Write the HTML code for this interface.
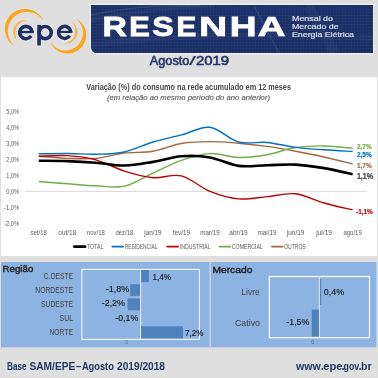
<!DOCTYPE html>
<html><head><meta charset="utf-8">
<style>
html,body{margin:0;padding:0;width:378px;height:378px;overflow:hidden;background:#dfdfdf;}
svg{display:block;will-change:transform;}
text{font-family:"Liberation Sans",sans-serif;}
</style></head><body>
<svg width="378" height="378" viewBox="0 0 378 378">
<defs>
<pattern id="grid" width="3" height="3" patternUnits="userSpaceOnUse">
<rect width="3" height="0.6" fill="#ffffff" opacity="0.05"/>
<rect width="0.6" height="3" fill="#ffffff" opacity="0.04"/>
</pattern>
<linearGradient id="bang" x1="0" y1="0" x2="1" y2="1">
<stop offset="0" stop-color="#1c3069"/><stop offset="0.5" stop-color="#1a2e67"/><stop offset="1" stop-color="#192c64"/>
</linearGradient>
</defs>
<rect width="378" height="378" fill="#dfdfdf"/>

<!-- logo -->
<g>
<path d="M15.15,46.33 L13.58,45.38 L12.09,44.28 L10.70,43.04 L9.42,41.66 L8.27,40.15 L7.27,38.52 L6.43,36.79 L5.75,34.98 L5.25,33.10 L4.94,31.17 L4.82,29.21 L4.89,27.23 L5.16,25.27 L5.63,23.34 L6.29,21.45 L7.13,19.65 L8.16,17.93 L9.35,16.32 L10.69,14.84 L12.18,13.49 L13.78,12.30 L15.49,11.28 L17.29,10.42 L19.16,9.75 L21.08,9.26 L23.04,8.97 L25.01,8.86 L26.97,8.95 L28.90,9.22 L30.79,9.68 L32.62,10.32 L34.37,11.12 L36.03,12.08 L37.58,13.19 L39.01,14.44 L40.30,15.80 L41.45,17.28 L42.45,18.84 L43.29,20.48 L43.97,22.18 L43.97,22.18 L43.05,20.62 L41.99,19.15 L40.81,17.80 L39.52,16.58 L38.13,15.48 L36.66,14.53 L35.12,13.71 L33.52,13.05 L31.88,12.53 L30.21,12.17 L28.52,11.95 L26.83,11.89 L25.15,11.98 L23.50,12.22 L21.87,12.59 L20.30,13.11 L18.78,13.76 L17.32,14.54 L15.95,15.44 L14.65,16.45 L13.46,17.58 L12.36,18.80 L11.38,20.11 L10.50,21.49 L9.75,22.95 L9.11,24.48 L8.61,26.05 L8.24,27.67 L8.01,29.33 L7.92,31.00 L7.98,32.69 L8.18,34.38 L8.54,36.06 L9.05,37.71 L9.70,39.33 L10.51,40.89 L11.47,42.38 L12.56,43.80 L13.79,45.12 L15.15,46.33 Z" fill="#fba521" stroke="#e8ecf3" stroke-width="0.9" paint-order="stroke"/>
<path d="M18.27,41.64 L17.63,41.17 L17.01,40.65 L16.43,40.09 L15.88,39.49 L15.37,38.84 L14.91,38.16 L14.49,37.44 L14.12,36.69 L13.80,35.91 L13.54,35.11 L13.34,34.28 L13.19,33.44 L13.11,32.59 L13.09,31.73 L13.14,30.87 L13.25,30.02 L13.42,29.18 L13.66,28.35 L13.95,27.53 L14.30,26.75 L14.71,25.99 L15.16,25.26 L15.67,24.56 L16.23,23.91 L16.82,23.30 L17.46,22.73 L18.13,22.21 L18.84,21.74 L19.57,21.32 L20.33,20.96 L21.11,20.65 L21.90,20.40 L22.71,20.20 L23.52,20.05 L24.33,19.97 L25.15,19.93 L25.96,19.96 L26.76,20.03 L27.54,20.16 L28.32,20.34 L28.32,20.34 L27.53,20.33 L26.75,20.37 L25.98,20.47 L25.22,20.61 L24.48,20.79 L23.75,21.02 L23.05,21.30 L22.36,21.61 L21.70,21.96 L21.07,22.35 L20.47,22.77 L19.89,23.22 L19.35,23.70 L18.83,24.21 L18.35,24.75 L17.90,25.31 L17.49,25.89 L17.11,26.50 L16.76,27.12 L16.45,27.76 L16.18,28.41 L15.94,29.08 L15.74,29.76 L15.57,30.45 L15.44,31.15 L15.35,31.86 L15.29,32.58 L15.27,33.30 L15.29,34.02 L15.34,34.74 L15.44,35.47 L15.58,36.20 L15.76,36.92 L15.99,37.63 L16.26,38.34 L16.57,39.04 L16.93,39.72 L17.33,40.38 L17.78,41.02 L18.27,41.64 Z" fill="#f9b443" stroke="#e8ecf3" stroke-width="0.9" paint-order="stroke"/>
<path d="M75.58,18.46 L77.11,19.24 L78.58,20.17 L79.95,21.26 L81.23,22.48 L82.39,23.83 L83.42,25.31 L84.31,26.89 L85.04,28.56 L85.60,30.31 L85.98,32.12 L86.18,33.96 L86.19,35.83 L86.01,37.70 L85.64,39.54 L85.08,41.34 L84.34,43.08 L83.42,44.74 L82.34,46.29 L81.10,47.73 L79.73,49.04 L78.24,50.20 L76.64,51.20 L74.95,52.04 L73.19,52.70 L71.38,53.19 L69.53,53.49 L67.67,53.61 L65.82,53.54 L63.99,53.29 L62.21,52.86 L60.48,52.26 L58.83,51.50 L57.27,50.59 L55.82,49.54 L54.49,48.36 L53.29,47.06 L52.22,45.67 L51.31,44.18 L50.54,42.64 L49.93,41.03 L49.93,41.03 L50.80,42.50 L51.79,43.86 L52.90,45.11 L54.11,46.25 L55.41,47.26 L56.79,48.13 L58.23,48.87 L59.72,49.47 L61.25,49.93 L62.80,50.24 L64.37,50.41 L65.93,50.44 L67.48,50.33 L69.00,50.08 L70.49,49.70 L71.93,49.19 L73.32,48.56 L74.64,47.81 L75.89,46.95 L77.05,45.99 L78.12,44.93 L79.10,43.78 L79.97,42.55 L80.74,41.25 L81.40,39.89 L81.94,38.47 L82.36,37.00 L82.66,35.50 L82.82,33.97 L82.85,32.42 L82.75,30.86 L82.51,29.30 L82.12,27.76 L81.60,26.24 L80.93,24.77 L80.13,23.34 L79.18,21.99 L78.11,20.71 L76.90,19.53 L75.58,18.46 Z" fill="#fba521" stroke="#e8ecf3" stroke-width="0.9" paint-order="stroke"/>
<path d="M70.84,21.43 L71.56,21.80 L72.26,22.23 L72.93,22.71 L73.57,23.24 L74.18,23.81 L74.74,24.43 L75.27,25.10 L75.75,25.80 L76.17,26.55 L76.54,27.32 L76.86,28.13 L77.12,28.96 L77.31,29.81 L77.44,30.67 L77.51,31.55 L77.51,32.43 L77.44,33.31 L77.31,34.18 L77.11,35.04 L76.84,35.88 L76.52,36.70 L76.13,37.50 L75.68,38.26 L75.18,38.98 L74.63,39.67 L74.02,40.30 L73.38,40.89 L72.69,41.43 L71.97,41.91 L71.21,42.34 L70.43,42.70 L69.64,43.01 L68.82,43.26 L67.99,43.44 L67.16,43.57 L66.33,43.63 L65.50,43.64 L64.68,43.59 L63.87,43.48 L63.07,43.31 L63.07,43.31 L63.88,43.29 L64.67,43.21 L65.45,43.08 L66.22,42.90 L66.96,42.67 L67.69,42.40 L68.39,42.08 L69.06,41.72 L69.70,41.33 L70.32,40.90 L70.90,40.43 L71.45,39.93 L71.97,39.41 L72.45,38.85 L72.90,38.27 L73.31,37.67 L73.69,37.05 L74.02,36.41 L74.32,35.75 L74.58,35.08 L74.81,34.39 L74.99,33.69 L75.13,32.98 L75.23,32.27 L75.29,31.54 L75.31,30.81 L75.28,30.08 L75.21,29.34 L75.10,28.61 L74.94,27.88 L74.74,27.16 L74.49,26.44 L74.19,25.74 L73.85,25.05 L73.46,24.38 L73.02,23.74 L72.54,23.11 L72.02,22.52 L71.45,21.96 L70.84,21.43 Z" fill="#f9b443" stroke="#e8ecf3" stroke-width="0.9" paint-order="stroke"/>
<g fill="none" stroke="#f4f4f4"><path d="M32.05,32.55 A6.15,6.15 0 1 0 31.06,35.90" stroke-width="4.90"/><path d="M19.75,32.05 H34.50" stroke-width="3.80"/><circle cx="45.15" cy="32.55" r="6.1" stroke-width="5.00"/><path d="M39.05,24.10 V46.20" stroke-width="5.10"/><path d="M70.60,32.40 A6.00,6.00 0 1 0 69.63,35.67" stroke-width="4.90"/><path d="M58.60,31.90 H73.05" stroke-width="3.60"/></g>
<g fill="none" stroke="#1c2e66"><path d="M32.05,32.55 A6.15,6.15 0 1 0 31.06,35.90" stroke-width="3.50"/><path d="M19.75,32.05 H33.80" stroke-width="2.40"/><circle cx="45.15" cy="32.55" r="6.1" stroke-width="3.60"/><path d="M39.05,24.80 V45.50" stroke-width="3.70"/><path d="M70.60,32.40 A6.00,6.00 0 1 0 69.63,35.67" stroke-width="3.50"/><path d="M58.60,31.90 H72.35" stroke-width="2.20"/></g>
</g>

<!-- banner -->
<path d="M90,3.7 H373.8 V54.2 H96 A6,6 0 0 1 90,48.2 Z" fill="#f3f3f3"/>
<path d="M91,5 H373 V53.1 H96.5 A5.5,5.5 0 0 1 91,47.6 Z" fill="url(#bang)"/>
<path d="M91,5 H373 V53.1 H96.5 A5.5,5.5 0 0 1 91,47.6 Z" fill="url(#grid)"/>
<g fill="none" stroke="#ffffff">
<path d="M91,15 Q140,4 200,5.5" stroke-width="1.2" opacity="0.10"/>
<path d="M91,20 Q150,8 215,5.5" stroke-width="4" opacity="0.04"/>
<path d="M254,5.5 L279,53" stroke-width="1.1" opacity="0.10"/>
<path d="M308,5.5 L335,53" stroke-width="10" opacity="0.035"/>
<path d="M91,45 Q200,30 373,38" stroke-width="6" opacity="0.03"/>
</g>
<text transform="translate(102.53,36.45) scale(1.186,1)" font-size="28.5" font-weight="bold" fill="#ffffff" stroke="#ffffff" stroke-width="0.84">R</text><text transform="translate(129.24,36.45) scale(1.078,1)" font-size="28.5" font-weight="bold" fill="#ffffff" stroke="#ffffff" stroke-width="0.93">E</text><text transform="translate(152.37,36.45) scale(1.127,1)" font-size="28.5" font-weight="bold" fill="#ffffff" stroke="#ffffff" stroke-width="0.89">S</text><text transform="translate(176.61,36.45) scale(1.040,1)" font-size="28.5" font-weight="bold" fill="#ffffff" stroke="#ffffff" stroke-width="0.96">E</text><text transform="translate(198.99,36.45) scale(1.369,1)" font-size="28.5" font-weight="bold" fill="#ffffff" stroke="#ffffff" stroke-width="0.73">N</text><text transform="translate(229.71,36.45) scale(1.303,1)" font-size="28.5" font-weight="bold" fill="#ffffff" stroke="#ffffff" stroke-width="0.77">H</text><text transform="translate(257.74,36.45) scale(1.346,1)" font-size="28.5" font-weight="bold" fill="#ffffff" stroke="#ffffff" stroke-width="0.74">A</text>
<g font-size="7.4" fill="#dfe3ec" stroke="#dfe3ec" stroke-width="0.18">
<text x="292" y="21.3" textLength="41" lengthAdjust="spacingAndGlyphs">Mensal do</text>
<text x="292" y="29.4" textLength="46.6" lengthAdjust="spacingAndGlyphs">Mercado de</text>
<text x="292" y="36.5" textLength="62" lengthAdjust="spacingAndGlyphs">Energia Elétrica</text>
</g>
<g font-size="12.9" fill="#1f3468" stroke="#1f3468" stroke-width="0.55"><text x="149.8" y="65.1" textLength="39.6" lengthAdjust="spacingAndGlyphs">Agosto</text><text x="189" y="65.1" stroke-width="0.15" textLength="7" lengthAdjust="spacingAndGlyphs">/</text><text x="195.9" y="65.1" textLength="33.3" lengthAdjust="spacingAndGlyphs">2019</text></g>

<!-- white chart panel -->
<rect x="1" y="77" width="376" height="179" fill="#ffffff"/>
<g transform="translate(0,90.5) scale(1,1.13) translate(0,-90.5)"><text x="86.3" y="90.5" font-size="7.4" font-weight="bold" fill="#474747" textLength="204.7" lengthAdjust="spacingAndGlyphs">Variação (%) do consumo na rede acumulado em 12 meses</text></g>
<text x="107" y="99.6" font-size="7.8" font-style="italic" fill="#575757" stroke="#575757" stroke-width="0.12" textLength="163" lengthAdjust="spacingAndGlyphs">(em relação ao mesmo período do ano anterior)</text>
<g font-size="6.4" fill="#595959">
<text x="6.30" y="113.95" textLength="12.7" lengthAdjust="spacingAndGlyphs">5,0%</text>
<text x="6.30" y="129.90" textLength="12.7" lengthAdjust="spacingAndGlyphs">4,0%</text>
<text x="6.30" y="145.85" textLength="12.7" lengthAdjust="spacingAndGlyphs">3,0%</text>
<text x="6.30" y="161.80" textLength="12.7" lengthAdjust="spacingAndGlyphs">2,0%</text>
<text x="6.30" y="177.75" textLength="12.7" lengthAdjust="spacingAndGlyphs">1,0%</text>
<text x="6.30" y="193.70" textLength="12.7" lengthAdjust="spacingAndGlyphs">0,0%</text>
<text x="4.20" y="209.65" textLength="14.8" lengthAdjust="spacingAndGlyphs">-1,0%</text>
<text x="4.20" y="225.60" textLength="14.8" lengthAdjust="spacingAndGlyphs">-2,0%</text>
</g>
<line x1="25" y1="191.4" x2="367" y2="191.4" stroke="#d9d9d9" stroke-width="1"/>
<path d="M38.80,156.31 C43.55,156.66 57.82,158.04 67.33,158.38 C76.84,158.73 86.35,159.26 95.86,158.38 C105.37,157.51 114.88,154.32 124.39,153.12 C133.90,151.92 143.41,152.80 152.92,151.21 C162.43,149.61 171.94,145.15 181.45,143.55 C190.96,141.96 200.47,141.69 209.98,141.64 C219.49,141.58 229.00,142.43 238.51,143.23 C248.02,144.03 257.53,145.09 267.04,146.42 C276.55,147.75 286.06,149.45 295.57,151.21 C305.08,152.96 314.59,154.82 324.10,156.95 C333.61,159.07 347.88,162.80 352.63,163.97" fill="none" stroke="#a5673f" stroke-width="1.4" stroke-linecap="butt" stroke-linejoin="round"/>
<path d="M38.80,181.51 C43.55,181.88 57.82,183.03 67.33,183.74 C76.84,184.46 86.35,185.42 95.86,185.82 C105.37,186.22 114.88,188.26 124.39,186.14 C133.90,184.01 143.41,177.36 152.92,173.06 C162.43,168.75 171.94,163.54 181.45,160.30 C190.96,157.05 200.47,154.08 209.98,153.60 C219.49,153.12 229.00,157.24 238.51,157.43 C248.02,157.61 257.53,156.36 267.04,154.72 C276.55,153.07 286.06,149.00 295.57,147.54 C305.08,146.08 314.59,145.81 324.10,145.94 C333.61,146.08 347.88,147.94 352.63,148.34" fill="none" stroke="#70ad47" stroke-width="1.4" stroke-linecap="butt" stroke-linejoin="round"/>
<path d="M38.80,156.31 C43.55,156.20 57.82,155.09 67.33,155.67 C76.84,156.26 86.35,157.24 95.86,159.82 C105.37,162.40 114.88,168.17 124.39,171.14 C133.90,174.12 143.41,176.89 152.92,177.68 C162.43,178.48 171.94,173.64 181.45,175.93 C190.96,178.21 200.47,187.57 209.98,191.40 C219.49,195.23 229.00,198.02 238.51,198.90 C248.02,199.77 257.53,197.51 267.04,196.66 C276.55,195.81 286.06,192.73 295.57,193.79 C305.08,194.86 314.59,200.36 324.10,203.04 C333.61,205.73 347.88,208.76 352.63,209.90" fill="none" stroke="#c00000" stroke-width="1.4" stroke-linecap="butt" stroke-linejoin="round"/>
<path d="M38.80,153.76 C43.55,153.70 57.82,153.36 67.33,153.44 C76.84,153.52 86.35,154.48 95.86,154.24 C105.37,154.00 114.88,154.05 124.39,152.00 C133.90,149.96 143.41,144.80 152.92,141.96 C162.43,139.11 171.94,137.38 181.45,134.94 C190.96,132.49 200.47,126.11 209.98,127.28 C219.49,128.45 229.00,139.43 238.51,141.96 C248.02,144.48 257.53,141.53 267.04,142.43 C276.55,143.34 286.06,146.16 295.57,147.38 C305.08,148.60 314.59,149.08 324.10,149.77 C333.61,150.46 347.88,151.23 352.63,151.53" fill="none" stroke="#0070c0" stroke-width="1.4" stroke-linecap="butt" stroke-linejoin="round"/>
<path d="M38.80,160.78 C43.55,160.83 57.82,160.78 67.33,161.09 C76.84,161.41 86.35,161.95 95.86,162.69 C105.37,163.43 114.88,165.69 124.39,165.56 C133.90,165.43 143.41,163.43 152.92,161.89 C162.43,160.35 171.94,157.05 181.45,156.31 C190.96,155.57 200.47,155.83 209.98,157.43 C219.49,159.02 229.00,164.58 238.51,165.88 C248.02,167.18 257.53,165.45 267.04,165.24 C276.55,165.03 286.06,164.13 295.57,164.60 C305.08,165.08 314.59,166.52 324.10,168.11 C333.61,169.71 347.88,173.16 352.63,174.17" fill="none" stroke="#000000" stroke-width="2.6" stroke-linecap="butt" stroke-linejoin="round"/>
<g font-size="6.4" fill="#595959">
<text x="30.70" y="235" textLength="16.2" lengthAdjust="spacingAndGlyphs">set/18</text>
<text x="58.38" y="235" textLength="17.9" lengthAdjust="spacingAndGlyphs">out/18</text>
<text x="86.96" y="235" textLength="17.8" lengthAdjust="spacingAndGlyphs">nov/18</text>
<text x="115.49" y="235" textLength="17.8" lengthAdjust="spacingAndGlyphs">dez/18</text>
<text x="144.32" y="235" textLength="17.2" lengthAdjust="spacingAndGlyphs">jan/19</text>
<text x="172.75" y="235" textLength="17.4" lengthAdjust="spacingAndGlyphs">fev/19</text>
<text x="200.28" y="235" textLength="19.4" lengthAdjust="spacingAndGlyphs">mar/19</text>
<text x="229.31" y="235" textLength="18.4" lengthAdjust="spacingAndGlyphs">abr/19</text>
<text x="257.54" y="235" textLength="19.0" lengthAdjust="spacingAndGlyphs">mai/19</text>
<text x="286.82" y="235" textLength="17.5" lengthAdjust="spacingAndGlyphs">jun/19</text>
<text x="316.15" y="235" textLength="15.9" lengthAdjust="spacingAndGlyphs">jul/19</text>
<text x="343.48" y="235" textLength="18.3" lengthAdjust="spacingAndGlyphs">ago/19</text>
</g>
<!-- end labels -->
<g font-weight="bold" font-size="7.4" stroke-width="0.2">
<text x="356.9" y="148.9" fill="#70ad47" stroke="#70ad47" textLength="14.8" lengthAdjust="spacingAndGlyphs">2,7%</text>
<text x="356.9" y="156.8" fill="#0070c0" stroke="#0070c0" textLength="14.8" lengthAdjust="spacingAndGlyphs">2,5%</text>
<text x="356.9" y="168.4" fill="#a5673f" stroke="#a5673f" textLength="14.8" lengthAdjust="spacingAndGlyphs">1,7%</text>
<text x="356.9" y="178.8" fill="#404040" stroke="#404040" font-size="8.6" textLength="16.3" lengthAdjust="spacingAndGlyphs">1,1%</text>
<text x="356.1" y="213.5" fill="#c00000" stroke="#c00000" textLength="16.7" lengthAdjust="spacingAndGlyphs">-1,1%</text>
</g>
<!-- legend -->
<g font-size="6.6" fill="#595959" stroke-linecap="round">
<line x1="74.2" y1="246.6" x2="85.2" y2="246.6" stroke="#000" stroke-width="2.6"/>
<text x="86.9" y="248.8" textLength="16.4" lengthAdjust="spacingAndGlyphs">TOTAL</text>
<line x1="112.2" y1="246.6" x2="123.3" y2="246.6" stroke="#0070c0" stroke-width="1.6"/>
<text x="124.8" y="248.8" textLength="32.7" lengthAdjust="spacingAndGlyphs">RESIDENCIAL</text>
<line x1="167.1" y1="246.6" x2="178.2" y2="246.6" stroke="#c00000" stroke-width="1.6"/>
<text x="179.8" y="248.8" textLength="30.9" lengthAdjust="spacingAndGlyphs">INDUSTRIAL</text>
<line x1="219.5" y1="246.6" x2="230.3" y2="246.6" stroke="#70ad47" stroke-width="1.6"/>
<text x="231.8" y="248.8" textLength="31.1" lengthAdjust="spacingAndGlyphs">COMERCIAL</text>
<line x1="271.8" y1="246.6" x2="282.6" y2="246.6" stroke="#a5673f" stroke-width="1.6"/>
<text x="284.2" y="248.8" textLength="21.5" lengthAdjust="spacingAndGlyphs">OUTROS</text>
</g>

<!-- blue panel -->
<rect x="1" y="262" width="375.5" height="85.3" fill="#8db3e2"/>
<rect x="209.5" y="262" width="1.5" height="85.3" fill="#c9d5e5"/>
<text x="2.6" y="272.3" font-size="9.6" fill="#1a1a1a" stroke="#1a1a1a" stroke-width="0.35" textLength="30.7" lengthAdjust="spacingAndGlyphs">Região</text>
<text x="212.4" y="272.6" font-size="9.8" fill="#1a1a1a" stroke="#1a1a1a" stroke-width="0.35" textLength="40" lengthAdjust="spacingAndGlyphs">Mercado</text>

<!-- region chart -->
<rect x="81.9" y="269.4" width="117.5" height="70" fill="none" stroke="#eaf0f8" stroke-width="1.2"/>
<rect x="140" y="269.5" width="1.2" height="69.9" fill="#dfe4ea"/>
<g fill="#4f81bd">
<rect x="141.2" y="270" width="7.6" height="12.1"/>
<rect x="130.2" y="284.2" width="9.8" height="11.7"/>
<rect x="127.6" y="298.4" width="12.4" height="11.9"/>
<rect x="141.2" y="326.3" width="41.8" height="12"/>
</g>
<g font-size="8.8" fill="#404040">
<text x="43.8" y="279" textLength="29.2" lengthAdjust="spacingAndGlyphs">C.OESTE</text>
<text x="35.3" y="292.9" textLength="37.7" lengthAdjust="spacingAndGlyphs">NORDESTE</text>
<text x="41" y="306.5" textLength="32" lengthAdjust="spacingAndGlyphs">SUDESTE</text>
<text x="59.6" y="320.6" textLength="13.4" lengthAdjust="spacingAndGlyphs">SUL</text>
<text x="49.5" y="334.5" textLength="23.5" lengthAdjust="spacingAndGlyphs">NORTE</text>
</g>
<g font-size="8.6" fill="#111111" stroke="#111111" stroke-width="0.1">
<text x="152.4" y="280" textLength="18.7" lengthAdjust="spacingAndGlyphs">1,4%</text>
<text x="105.8" y="292.2" textLength="23.3" lengthAdjust="spacingAndGlyphs">-1,8%</text>
<text x="101.8" y="306.3" textLength="23.1" lengthAdjust="spacingAndGlyphs">-2,2%</text>
<text x="115.3" y="321.3" textLength="22.9" lengthAdjust="spacingAndGlyphs">-0,1%</text>
<text x="185" y="335.8" textLength="18.5" lengthAdjust="spacingAndGlyphs">7,2%</text>
</g>
<text x="125.2" y="344.4" font-size="5.2" fill="#6a7080">0</text>

<!-- mercado chart -->
<rect x="269.4" y="276.5" width="100.1" height="61.2" fill="none" stroke="#f8fbff" stroke-width="1.25"/>
<rect x="318.8" y="276.4" width="1.2" height="60.7" fill="#dde3ec"/>
<g fill="#4f81bd">
<rect x="319.9" y="279" width="1.3" height="25.9"/>
<rect x="311.8" y="309.6" width="7.1" height="26.8"/>
</g>
<g font-size="8.4" fill="#404040">
<text x="241.3" y="295.2" textLength="18.4" lengthAdjust="spacingAndGlyphs">Livre</text>
<text x="235" y="325.9" textLength="25" lengthAdjust="spacingAndGlyphs">Cativo</text>
</g>
<g font-size="8.6" fill="#111111" stroke="#111111" stroke-width="0.1">
<text x="323.8" y="295.2" textLength="20.3" lengthAdjust="spacingAndGlyphs">0,4%</text>
<text x="286.3" y="324.6" textLength="23.1" lengthAdjust="spacingAndGlyphs">-1,5%</text>
</g>
<text x="311.3" y="343.5" font-size="5" fill="#595959">0</text>

<!-- footer -->
<g font-size="9" font-weight="bold" fill="#1f3864" transform="translate(0,370) scale(1,1.17) translate(0,-370)"><text x="7.0" y="370" textLength="19.7" lengthAdjust="spacingAndGlyphs">Base</text><text x="29.5" y="370" textLength="45.8" lengthAdjust="spacingAndGlyphs">SAM/EPE</text><text x="76.0" y="370" textLength="5.3" lengthAdjust="spacingAndGlyphs">–</text><text x="81.9" y="370" textLength="31.9" lengthAdjust="spacingAndGlyphs">Agosto</text><text x="117.1" y="370" textLength="47.9" lengthAdjust="spacingAndGlyphs">2019/2018</text></g>
<g font-size="11.6" font-weight="bold" fill="#1f3864"><text x="296.00" y="370" textLength="24.80" lengthAdjust="spacingAndGlyphs">www</text><circle cx="322.30" cy="368.9" r="1.0"/><text x="323.30" y="370" textLength="19.20" lengthAdjust="spacingAndGlyphs">epe</text><circle cx="343.15" cy="368.9" r="1.0"/><text x="343.60" y="370" textLength="15.60" lengthAdjust="spacingAndGlyphs">gov</text><circle cx="360.10" cy="368.9" r="1.0"/><text x="361.00" y="370" textLength="10.50" lengthAdjust="spacingAndGlyphs">br</text></g>
</svg>
</body></html>
